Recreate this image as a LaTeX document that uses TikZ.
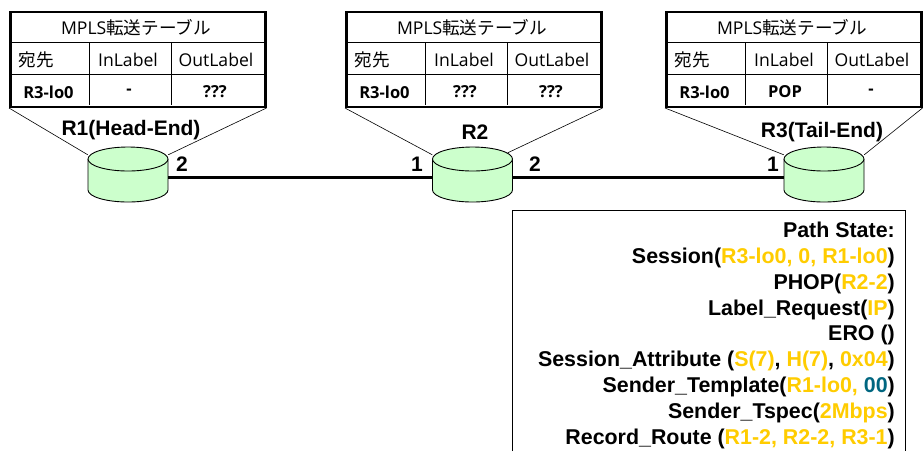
\documentclass[tikz,border=0pt]{standalone}
\usepackage{fontspec}
\setmainfont{Liberation Sans}
\newfontfamily\tblfont{Open Sans}
\newfontfamily\cjkfont{Noto Sans CJK JP}
\usetikzlibrary {positioning}
\definecolor{routergreen}{HTML}{CCFFCC}
\definecolor{valyellow}{HTML}{FFCC00}
\definecolor{valteal}{HTML}{006680}
\tikzset{
  tablebox/.style={draw, line width=2.5pt, minimum width=255, minimum height=95, inner sep=0pt},
  router/.style={minimum width=80, minimum height=55, inner sep=0pt},
  routerbody/.style={draw, fill=routergreen, line width=.9pt},
  celltext/.style={font=\tblfont\fontsize{17.6}{20}\selectfont},
  cellbold/.style={font=\tblfont\bfseries\fontsize{16.5}{19}\selectfont},
  boldtext/.style={font=\bfseries\fontsize{21}{24}\selectfont},
  callout/.style={line width=.6pt},
}
\newcommand{\val}[1]{\textcolor{valyellow}{#1}}
% forwarding table: name, left edge, InLabel, OutLabel
\newcommand{\fwdtable}[4]{
  \node[tablebox, anchor=north west] (#1) at (#2, 10.5) {};
  \draw[line width=.6pt] (#2, 42) -- ++(255, 0) (#2, 74) -- ++(255, 0);
  \draw[line width=.6pt] (#2+80, 42) -- ++(0, 63) (#2+162.5, 42) -- ++(0, 63);
  \node[celltext] (#1-title) at (#2+127, 28) {MPLS{\cjkfont 転送テーブル}};
  \node[celltext, anchor=west] (#1-dest) at (#2+6, 60) {\cjkfont 宛先};
  \node[celltext] (#1-inhead) at (#2+119, 60) {InLabel};
  \node[celltext] (#1-outhead) at (#2+207, 60) {OutLabel};
  \node[cellbold] (#1-name) at (#2+39.5, 92) {R3-lo0};
  \node[cellbold] (#1-in) at (#2+120, 92) {#3};
  \node[cellbold] (#1-out) at (#2+206, 92) {#4};
}
% router drum: name, centre x
\newcommand{\routerdrum}[2]{
  \node[router] (#1) at (#2, 174.5) {};
  \path[routerbody] (#2-40, 159) -- (#2-40, 190)
    arc[start angle=180, end angle=360, x radius=40pt, y radius=12pt] -- (#2+40, 159);
  \path[routerbody] (#2, 159) ellipse [x radius=40pt, y radius=12pt];
}
\begin{document}
\begin{tikzpicture}[x=1pt, y=-1pt]
  \useasboundingbox (0, 0) rectangle (924, 451);
  \fwdtable{tblA}{9}{-}{???}
  \fwdtable{tblB}{345}{???}{???}
  \fwdtable{tblC}{665}{POP}{-}

  \routerdrum{rtA}{128}
  \routerdrum{rtB}{472.5}
  \routerdrum{rtC}{824}

  \draw[callout] (tblA.south west) -- ([yshift=-8]rtA.north west);
  \draw[callout] (tblA.south east) -- ([yshift=-8]rtA.north east);
  \draw[callout] (tblB.south west) -- ([yshift=-8]rtB.north west);
  \draw[callout] (tblB.south east) -- ([xshift=-5, yshift=-6]rtB.north east);
  \draw[callout] (tblC.south west) -- ([yshift=-8]rtC.north west);
  \draw[callout] (tblC.south east) -- ([yshift=-8]rtC.north east);

  \draw[line width=3pt] ([yshift=-2.5]rtA.east) -- ([yshift=-2.5]rtB.west);
  \draw[line width=3pt] ([yshift=-2.5]rtB.east) -- ([yshift=-2.5]rtC.west);

  \node[boldtext] (nameA) at (131, 130) {R1(Head-End)};
  \node[boldtext] (nameB) at (475, 132) {R2};
  \node[boldtext] (nameC) at (822, 132) {R3(Tail-End)};
  \node[boldtext] (portA) at (182, 164) {2};
  \node[boldtext] (portB) at (417, 164) {1};
  \node[boldtext] (portC) at (535, 164) {2};
  \node[boldtext] (portD) at (773, 164) {1};

  \coordinate (boxSW) at (512.5, 451);
  \coordinate (boxNW) at (512.5, 210.5);
  \coordinate (boxNE) at (905, 210.5);
  \coordinate (boxSE) at (905, 451);
  \draw[line width=.8pt] (boxSW) -- (boxNW) -- (boxNE) -- (boxSE);

  \node[anchor=north east, align=right, inner sep=0pt, font=\bfseries\fontsize{21.4}{25.8}\selectfont] (pathstate) at (895, 222) {
    Path State:\\
    Session(\val{R3-lo0, 0, R1-lo0})\\
    PHOP(\val{R2-2})\\
    Label\_Request(\val{IP})\\
    ERO ()\\
    Session\_Attribute (\val{S(7)}, \val{H(7)}, \val{0x04})\\
    Sender\_Template(\val{R1-lo0,} \textcolor{valteal}{00})\\
    Sender\_Tspec(\val{2Mbps})\\
    Record\_Route (\val{R1-2, R2-2, R3-1})};
\end{tikzpicture}
\end{document}
